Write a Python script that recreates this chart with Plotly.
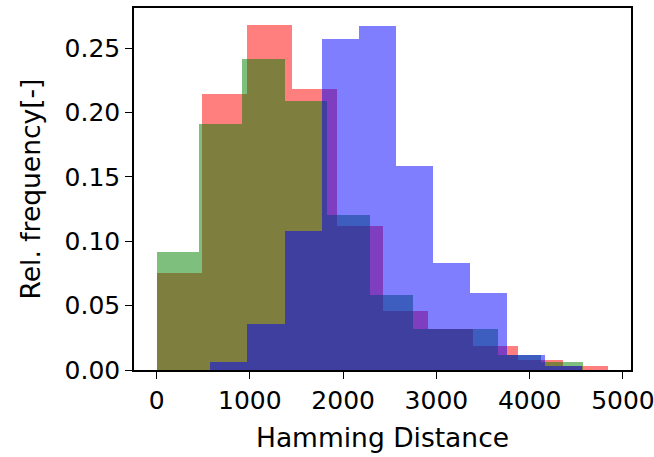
import numpy as np
import plotly.graph_objects as go

# Histogram ranges (min, max of data) and relative-frequency heights (10 bins each)
red_range = [0, 4844]
red_freq = [0.0753, 0.2143, 0.2678, 0.2184, 0.1115, 0.0456, 0.0319, 0.0184, 0.0081, 0.0029]

green_range = [0, 4576]
green_freq = [0.0913, 0.1911, 0.2412, 0.2089, 0.1205, 0.0585, 0.0319, 0.0319, 0.0120, 0.0060]

blue_range = [576, 4558]
blue_freq = [0.0060, 0.0360, 0.1081, 0.2575, 0.2671, 0.1588, 0.0831, 0.0598, 0.0120, 0.0029]

x_ticks = [0, 1000, 2000, 3000, 4000, 5000]
y_ticks = [0.00, 0.05, 0.10, 0.15, 0.20, 0.25]

FONT = "DejaVu Sans"
FS_TICK = 25
FS_TITLE = 26.5

fig = go.Figure()


def add_hist(rng, freq, color):
    edges = np.linspace(rng[0], rng[1], len(freq) + 1)
    centers = (edges[:-1] + edges[1:]) / 2
    widths = np.diff(edges)
    fig.add_trace(go.Bar(
        x=centers, y=freq, width=widths,
        marker=dict(color=color, line=dict(width=0)),
        opacity=0.5, showlegend=False, hoverinfo="skip",
    ))


add_hist(red_range, red_freq, "rgb(255,0,0)")
add_hist(green_range, green_freq, "rgb(0,128,0)")
add_hist(blue_range, blue_freq, "rgb(0,0,255)")

all_min = min(red_range[0], green_range[0], blue_range[0])
all_max = max(red_range[1], green_range[1], blue_range[1])
span = all_max - all_min
ymax = max(max(red_freq), max(green_freq), max(blue_freq)) * 1.05

axis_common = dict(
    showline=True, linecolor="black", linewidth=1.5, mirror=True,
    ticks="outside", ticklen=7, tickwidth=1.3, tickcolor="black",
    showgrid=False, zeroline=False,
    tickfont=dict(family=FONT, size=FS_TICK, color="black"),
    ticklabeloverflow="allow",
    automargin=False,
)

fig.update_layout(
    barmode="overlay",
    bargap=0,
    width=654, height=457,
    margin=dict(l=134, r=23, t=8, b=87),
    paper_bgcolor="white", plot_bgcolor="white",
    font=dict(family=FONT, size=FS_TICK, color="black"),
    xaxis=dict(
        range=[all_min - 0.05 * span, all_max + 0.05 * span],
        tickvals=x_ticks, ticktext=[str(v) for v in x_ticks],
        title=dict(text="Hamming Distance", font=dict(family=FONT, size=FS_TITLE, color="black"), standoff=15),
        **axis_common,
    ),
    yaxis=dict(
        range=[0, ymax],
        tickvals=y_ticks, ticktext=[f"{v:.2f}" for v in y_ticks],
        title=dict(text="Rel. frequency[-]", font=dict(family=FONT, size=FS_TITLE, color="black"), standoff=16),
        **axis_common,
    ),
)

fig.write_html("out.html")
